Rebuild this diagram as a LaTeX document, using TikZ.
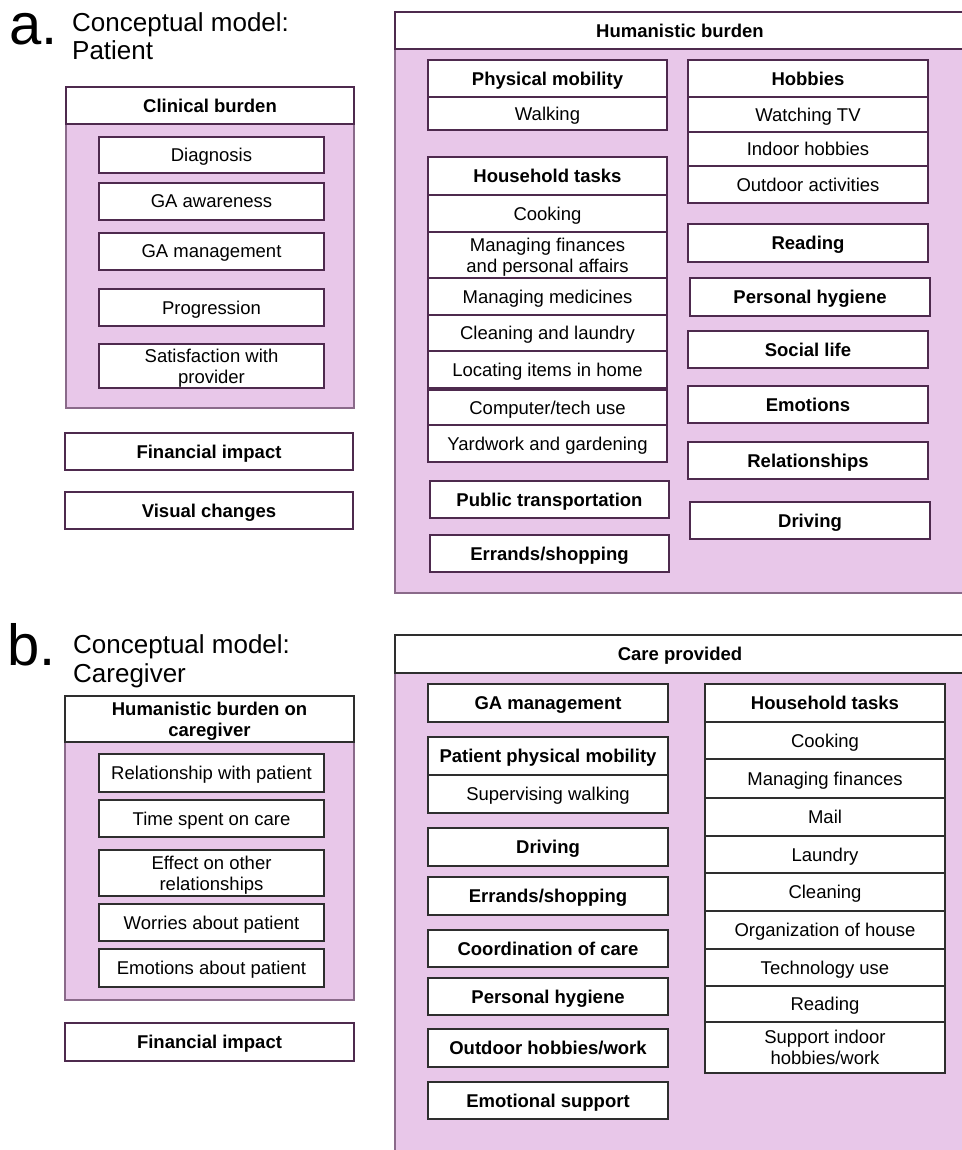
\documentclass[tikz,border=0pt]{standalone}
\usepackage{fontspec}
\setmainfont{Liberation Sans}
\definecolor{pinkfill}{HTML}{E8C7E9}
\definecolor{purpline}{HTML}{4E2A4E}
\definecolor{purplight}{HTML}{8A6A8A}
\definecolor{grayline}{HTML}{2E2E2E}
\tikzset{
  ibox/.style={draw=purpline, line width=1.2pt, fill=white, inner sep=0pt, align=center,
    text depth=0pt, font=\fontsize{18.5}{21}\selectfont},
  bbox/.style={ibox, font=\fontsize{18.5}{21}\selectfont\bfseries},
  pinkbody/.style={draw=purplight, line width=1.2pt, fill=pinkfill, inner sep=0pt},
  bpart/.style={draw=grayline},
  bigletter/.style={anchor=base west, inner sep=0pt, font=\fontsize{58}{60}\selectfont},
  titletext/.style={anchor=base west, inner sep=0pt, font=\fontsize{26}{28}\selectfont}
}
\newcommand\bx[7][]{%
  \pgfmathsetmacro\bxcx{(#3+#5)/2}%
  \pgfmathsetmacro\bxcy{(#4+#6)/2}%
  \pgfmathsetmacro\bxw{#5-#3}%
  \pgfmathsetmacro\bxh{#6-#4}%
  \node[ibox,#1,minimum width=\bxw pt,minimum height=\bxh pt] (#2) at (\bxcx,\bxcy) {#7};}
\begin{document}
\begin{tikzpicture}[x=1pt,y=-1pt]
\useasboundingbox (0,0) rectangle (961,1150);
\fill[white] (0,0) rectangle (961,1150);

% ---------- Part a ----------
\node[bigletter] (la) at (9,45) {a.};
\node[titletext] (ta1) at (72,32) {Conceptual model:};
\node[titletext] (ta2) at (72,60) {Patient};

% Clinical burden
\bx[pinkbody]{clinB}{66}{124}{354}{408}{}
\bx[bbox]{clinH}{66}{87}{354}{124}{Clinical burden}
\bx{diag}{99}{137}{324}{173}{Diagnosis}
\bx{gaaw}{99}{183}{324}{220}{GA awareness}
\bx{gamg}{99}{233}{324}{270}{GA management}
\bx{prog}{99}{289}{324}{326}{Progression}
\bx{satis}{99}{344}{324}{388}{Satisfaction with\\provider}
\bx[bbox]{finA}{65}{433}{353}{470}{Financial impact}
\bx[bbox]{visA}{65}{492}{353}{529}{Visual changes}

% Humanistic burden
\bx[pinkbody]{humB}{395}{49}{965}{593}{}
\bx[bbox]{humH}{395}{12}{965}{49}{Humanistic burden}
\bx[bbox]{physmob}{428}{60}{667}{97}{Physical mobility}
\bx{walk}{428}{97}{667}{130}{Walking}
\bx[bbox]{hhA}{428}{157}{667}{195}{Household tasks}
\bx{cookA}{428}{195}{667}{232}{Cooking}
\bx{finpers}{428}{232}{667}{278}{Managing finances\\and personal affairs}
\bx{medic}{428}{278}{667}{315}{Managing medicines}
\bx{cleanl}{428}{315}{667}{351}{Cleaning and laundry}
\bx{locat}{428}{351}{667}{388}{Locating items in home}
\bx{comput}{428}{390}{667}{425}{Computer/tech use}
\bx{yard}{428}{425}{667}{462}{Yardwork and gardening}
\bx[bbox]{pubtr}{430}{481}{669}{518}{Public transportation}
\bx[bbox]{errA}{430}{535}{669}{572}{Errands/shopping}

\bx[bbox]{hobb}{688}{60}{928}{97}{Hobbies}
\bx{tv}{688}{97}{928}{132}{Watching TV}
\bx{indoor}{688}{132}{928}{166}{Indoor hobbies}
\bx{outdoor}{688}{166}{928}{203}{Outdoor activities}
\bx[bbox]{readA}{688}{224}{928}{262}{Reading}
\bx[bbox]{hygA}{690}{278}{930}{316}{Personal hygiene}
\bx[bbox]{social}{688}{331}{928}{368}{Social life}
\bx[bbox]{emot}{688}{386}{928}{423}{Emotions}
\bx[bbox]{relat}{688}{442}{928}{479}{Relationships}
\bx[bbox]{drivA}{690}{502}{930}{539}{Driving}

% ---------- Part b ----------
\node[bigletter] (lb) at (7,665) {b.};
\node[titletext] (tb1) at (73,653) {Conceptual model:};
\node[titletext] (tb2) at (73,682) {Caregiver};

% Humanistic burden on caregiver
\bx[pinkbody]{cgB}{65}{742}{354}{1000}{}
\bx[bbox,bpart]{cgH}{65}{696}{354}{742}{Humanistic burden on\\caregiver}
\bx[bpart]{relpat}{99}{754}{324}{792}{Relationship with patient}
\bx[bpart]{timesp}{99}{800}{324}{837}{Time spent on care}
\bx[bpart]{effect}{99}{850}{324}{896}{Effect on other\\relationships}
\bx[bpart]{worry}{99}{904}{324}{941}{Worries about patient}
\bx[bpart]{emopat}{99}{949}{324}{987}{Emotions about patient}
\bx[bbox]{finB}{65}{1023}{354}{1061}{Financial impact}

% Care provided
\bx[pinkbody]{careB}{395}{673}{965}{1156}{}
\bx[bbox,bpart]{careH}{395}{635}{965}{673}{Care provided}
\bx[bbox,bpart]{gamgB}{428}{684}{668}{722}{GA management}
\bx[bbox,bpart]{ppm}{428}{737}{668}{775}{Patient physical mobility}
\bx[bpart]{supw}{428}{775}{668}{813}{Supervising walking}
\bx[bbox,bpart]{drivB}{428}{828}{668}{866}{Driving}
\bx[bbox,bpart]{errB}{428}{877}{668}{915}{Errands/shopping}
\bx[bbox,bpart]{coord}{428}{930}{668}{967}{Coordination of care}
\bx[bbox,bpart]{hygB}{428}{978}{668}{1015}{Personal hygiene}
\bx[bbox,bpart]{outhw}{428}{1029}{668}{1067}{Outdoor hobbies/work}
\bx[bbox,bpart]{emosup}{428}{1082}{668}{1119}{Emotional support}

\bx[bbox,bpart]{hhB}{705}{684}{945}{722}{Household tasks}
\bx[bpart]{cookB}{705}{722}{945}{759}{Cooking}
\bx[bpart]{finmB}{705}{759}{945}{798}{Managing finances}
\bx[bpart]{mail}{705}{798}{945}{836}{Mail}
\bx[bpart]{laund}{705}{836}{945}{873}{Laundry}
\bx[bpart]{clean}{705}{873}{945}{911}{Cleaning}
\bx[bpart]{orgh}{705}{911}{945}{949}{Organization of house}
\bx[bpart]{techu}{705}{949}{945}{986}{Technology use}
\bx[bpart]{readB}{705}{986}{945}{1022}{Reading}
\bx[bpart]{suppin}{705}{1022}{945}{1073}{Support indoor\\hobbies/work}
\end{tikzpicture}
\end{document}
